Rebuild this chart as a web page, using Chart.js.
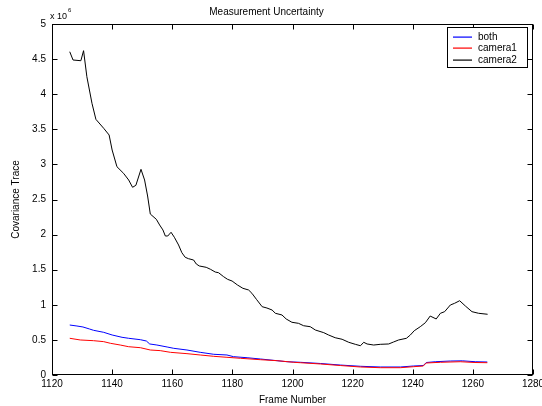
<!DOCTYPE html>
<html><head><meta charset="utf-8">
<script src="https://cdn.jsdelivr.net/npm/chart.js@4.4.0/dist/chart.umd.min.js"></script>
<style>html,body{margin:0;padding:0;background:#fff;}canvas{display:block;}</style>
</head><body>
<canvas id="c" width="542" height="406"></canvas>
<script>
// values in units of 10^6
const bothFrames = [1125.9,1128.3,1130.3,1132.5,1133.8,1137.2,1140.0,1143.3,1145.5,1149.4,1151.4,1152.5,1154.9,1158.3,1160.5,1164.9,1169.3,1173.8,1178.2,1180.4,1184.9,1189.3,1193.7,1198.2,1202.6,1209.3,1215.9,1222.6,1229.2,1235.9,1240.2,1243.5,1244.5,1247.5,1252.5,1256.5,1260.8,1264.8];
const bothValues = [0.712,0.698,0.684,0.655,0.637,0.608,0.570,0.537,0.523,0.503,0.484,0.442,0.427,0.399,0.380,0.356,0.323,0.295,0.285,0.261,0.246,0.228,0.209,0.189,0.181,0.164,0.142,0.124,0.114,0.114,0.128,0.135,0.178,0.189,0.199,0.202,0.189,0.185];

const camera1Frames = [1125.9,1129.4,1133.8,1137.2,1139.4,1142.7,1145.5,1149.4,1152.7,1156.0,1159.4,1164.9,1169.3,1173.8,1178.2,1182.7,1189.3,1194.9,1200.4,1202.6,1209.3,1215.9,1222.6,1229.2,1235.9,1240.2,1243.5,1244.5,1249.2,1255.8,1260.7,1264.8];
const camera1Values = [0.523,0.499,0.489,0.475,0.452,0.427,0.403,0.389,0.356,0.347,0.323,0.304,0.285,0.266,0.252,0.238,0.218,0.204,0.181,0.175,0.157,0.135,0.114,0.104,0.104,0.118,0.128,0.171,0.181,0.189,0.178,0.175];

const camera2Frames = [1125.9,1127.0,1129.6,1130.5,1131.6,1133.3,1134.6,1137.2,1139.0,1140.0,1141.6,1143.8,1145.5,1146.8,1147.9,1149.6,1150.8,1151.8,1152.7,1154.7,1155.8,1156.9,1157.7,1158.5,1159.6,1160.7,1162.1,1163.2,1164.3,1165.4,1167.1,1168.0,1169.0,1171.3,1172.7,1174.3,1175.4,1177.1,1178.4,1179.9,1181.7,1183.5,1185.4,1186.5,1188.0,1189.9,1191.5,1193.2,1194.3,1196.5,1197.9,1199.8,1202.0,1203.7,1205.9,1207.6,1210.4,1212.0,1214.2,1216.5,1218.7,1220.9,1222.6,1223.7,1224.8,1227.0,1229.2,1232.0,1233.6,1235.3,1237.9,1239.2,1240.5,1242.5,1244.2,1245.8,1247.8,1249.2,1250.6,1252.5,1253.9,1255.6,1257.5,1259.7,1261.9,1264.9];
const camera2Values = [4.605,4.487,4.477,4.620,4.249,3.870,3.642,3.514,3.419,3.205,2.967,2.873,2.778,2.674,2.702,2.930,2.778,2.550,2.293,2.218,2.137,2.066,1.980,1.980,2.033,1.962,1.852,1.742,1.677,1.657,1.638,1.581,1.553,1.534,1.506,1.467,1.457,1.400,1.363,1.339,1.282,1.235,1.211,1.164,1.078,0.973,0.954,0.926,0.879,0.855,0.798,0.751,0.736,0.702,0.688,0.641,0.603,0.570,0.531,0.509,0.466,0.437,0.417,0.466,0.442,0.427,0.437,0.442,0.470,0.499,0.523,0.570,0.631,0.688,0.745,0.840,0.798,0.879,0.902,0.997,1.021,1.058,0.983,0.902,0.879,0.865];

const xTicks = [1120,1140,1160,1180,1200,1220,1240,1260,1280];
const yTicks = [0,0.5,1,1.5,2,2.5,3,3.5,4,4.5,5];
const seriesLabels = ['both','camera1','camera2'];
const seriesColors = ['rgb(0,0,255)','rgb(255,0,0)','rgb(0,0,0)'];

const FONT = '"Liberation Sans", Arial, Helvetica, sans-serif';
Chart.defaults.font.family = FONT;
Chart.defaults.color = '#000';

function pts(fr, vals){ return fr.map((f,i)=>({x:f, y:vals[i]})); }

const framePlugin = {
  id: 'frame',
  afterDraw(chart){
    const {ctx, chartArea:{left,right,top,bottom}, scales:{x,y}} = chart;
    ctx.save();
    ctx.strokeStyle = '#000'; ctx.lineWidth = 1;
    const L = Math.round(left)+0.5, R = Math.round(right)-0.5, T = Math.round(top)+0.5, B = Math.round(bottom)-0.5;
    ctx.strokeRect(L, T, R-L, B-T);
    ctx.beginPath();
    xTicks.forEach(v=>{ const px = Math.round(x.getPixelForValue(v))+0.5;
      ctx.moveTo(px,B); ctx.lineTo(px,B-5); ctx.moveTo(px,T); ctx.lineTo(px,T+5); });
    yTicks.forEach(v=>{ const py = Math.round(y.getPixelForValue(v))+0.5;
      ctx.moveTo(L,py); ctx.lineTo(L+5,py); ctx.moveTo(R,py); ctx.lineTo(R-5,py); });
    ctx.stroke();
    ctx.beginPath();
    // exponent label
    ctx.fillStyle = '#000'; ctx.textAlign = 'left'; ctx.textBaseline = 'alphabetic';
    ctx.font = '9px ' + FONT;
    ctx.fillText('x 10', 50, 19);
    const w = ctx.measureText('x 10').width;
    ctx.font = '6px ' + FONT;
    ctx.fillText('6', 50 + w + 1, 12);
    // legend
    const lx = 447, ly = 27, lw = 81, lh = 41;
    ctx.fillStyle = '#000'; ctx.fillRect(lx, ly, lw, lh);
    ctx.fillStyle = '#fff'; ctx.fillRect(lx+1, ly+1, lw-2, lh-2);
    ctx.font = '10px ' + FONT; ctx.textBaseline = 'middle';
    seriesLabels.forEach((lab,i)=>{
      const ry = Math.round(37 + i*11.4);
      ctx.fillStyle = seriesColors[i];
      ctx.fillRect(453, ry - 0.5, 19, 1.2);
      ctx.fillStyle = '#000';
      ctx.fillText(lab, 478, ry + 0.5);
    });
    ctx.restore();
  }
};

new Chart(document.getElementById('c'), {
  type: 'line',
  data: {
    datasets: [
      {label: seriesLabels[0], data: pts(bothFrames, bothValues), borderColor: seriesColors[0], order: 3},
      {label: seriesLabels[1], data: pts(camera1Frames, camera1Values), borderColor: seriesColors[1], order: 2},
      {label: seriesLabels[2], data: pts(camera2Frames, camera2Values), borderColor: seriesColors[2], order: 1}
    ]
  },
  options: {
    responsive: false,
    animation: false,
    elements: { point: {radius: 0}, line: {borderWidth: 1, tension: 0, fill: false} },
    layout: { padding: {left: 0, right: 9, top: 0, bottom: 0} },
    plugins: {
      legend: {display: false},
      tooltip: {enabled: false},
      title: {display: true, text: 'Measurement Uncertainty', color: '#000',
              font: {size: 10, weight: 'normal', family: FONT}, padding: {top: 6, bottom: 6}}
    },
    scales: {
      x: {
        type: 'linear', min: 1120, max: 1280,
        afterBuildTicks: s => { s.ticks = xTicks.map(v=>({value: v})); },
        ticks: {font: {size: 10}, color: '#000', padding: 3, maxRotation: 0, autoSkip: false, callback: v => String(v)},
        grid: {display: false, drawTicks: false},
        border: {display: false},
        title: {display: true, text: 'Frame Number', color: '#000', font: {size: 10}, padding: {top: 0, bottom: 0}},
        afterFit: s => { s.height = 31; s.paddingLeft = 0; s.paddingRight = 0; }
      },
      y: {
        type: 'linear', min: 0, max: 5,
        afterBuildTicks: s => { s.ticks = yTicks.map(v=>({value: v})); },
        ticks: {font: {size: 10}, color: '#000', padding: 6, autoSkip: false, callback: v => String(v)},
        grid: {display: false, drawTicks: false},
        border: {display: false},
        title: {display: true, text: 'Covariance Trace', color: '#000', font: {size: 10}, padding: {top: 10, bottom: 0}},
        afterFit: s => { s.width = 52; s.paddingTop = 0; s.paddingBottom = 0; }
      }
    }
  },
  plugins: [framePlugin]
});
</script>
</body></html>
